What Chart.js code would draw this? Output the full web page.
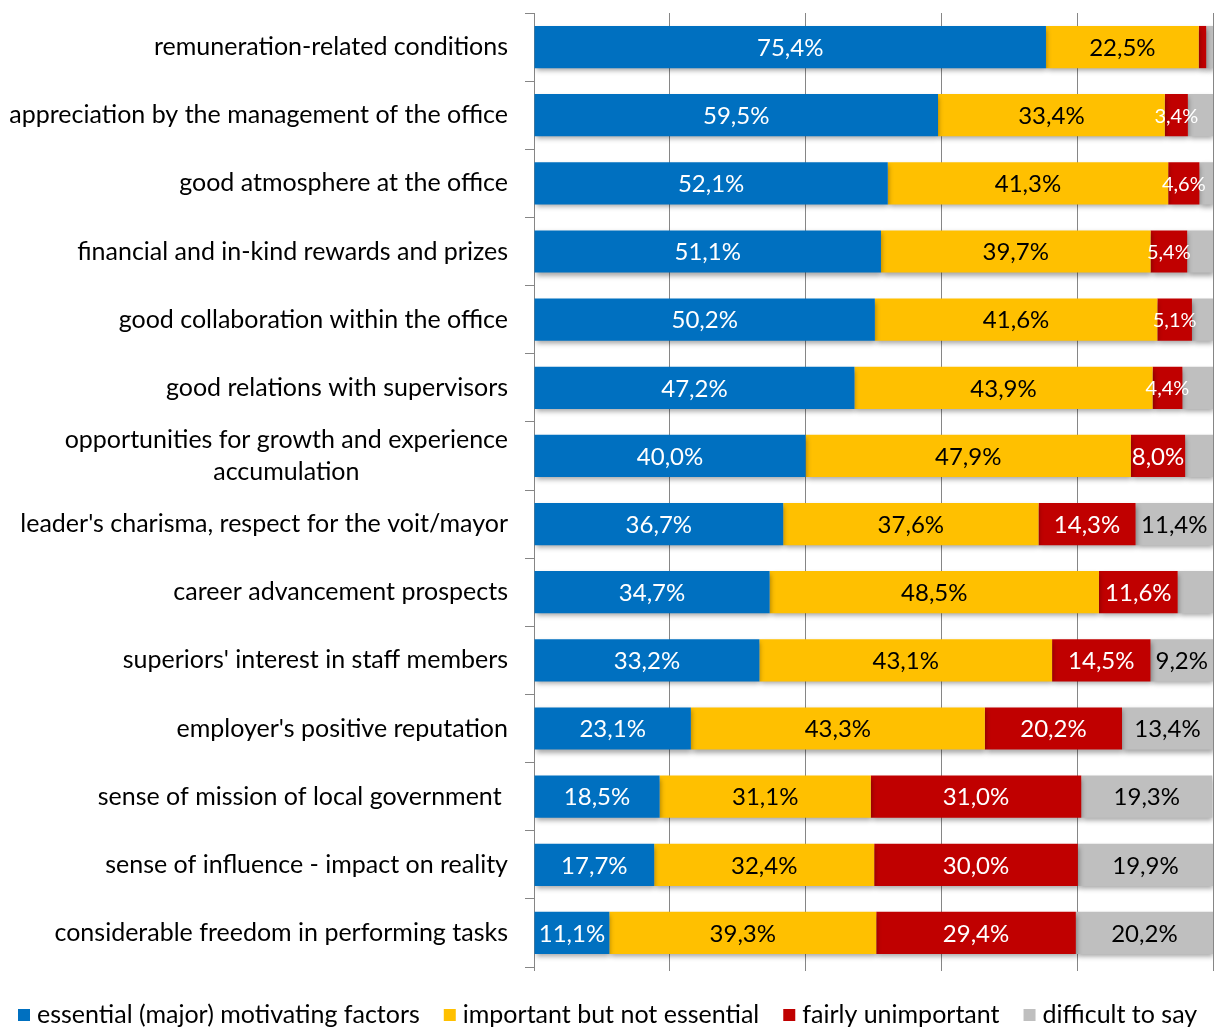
<!DOCTYPE html>
<html>
<head>
<meta charset="utf-8">
<script src="https://cdn.jsdelivr.net/npm/chart.js@4.4.1/dist/chart.umd.min.js"></script>
<style>
  html, body { margin: 0; padding: 0; background: #fff; }
  #wrap { width: 1214px; height: 1027px; position: relative; }
</style>
</head>
<body>
<div id="wrap"><canvas id="chart"></canvas></div>
<script>
// motivating factors, top to bottom
const categories = [
  'remuneration-related conditions',
  'appreciation by the management of the office',
  'good atmosphere at the office',
  'financial and in-kind rewards and prizes',
  'good collaboration within the office',
  'good relations with supervisors',
  ['opportunities for growth and experience', 'accumulation'],
  "leader's charisma, respect for the voit/mayor",
  'career advancement prospects',
  "superiors' interest in staff members",
  "employer's positive reputation",
  'sense of mission of local government ',
  'sense of influence - impact on reality',
  'considerable freedom in performing tasks'
];

const essential   = [75.4, 59.5, 52.1, 51.1, 50.2, 47.2, 40.0, 36.7, 34.7, 33.2, 23.1, 18.5, 17.7, 11.1];
const important   = [22.5, 33.4, 41.3, 39.7, 41.6, 43.9, 47.9, 37.6, 48.5, 43.1, 43.3, 31.1, 32.4, 39.3];
const unimportant = [1.1, 3.4, 4.6, 5.4, 5.1, 4.4, 8.0, 14.3, 11.6, 14.5, 20.2, 31.0, 30.0, 29.4];
const difficult   = [1.0, 3.7, 2.0, 3.8, 3.1, 4.5, 4.1, 11.4, 5.2, 9.2, 13.4, 19.3, 19.9, 20.2];

// which segments carry a value label
const showUnimportant = [false, true, true, true, true, true, true, true, true, true, true, true, true, true];
const showDifficult   = [false, false, false, false, false, false, false, true, false, true, true, true, true, true];

const seriesNames = [
  'essential (major) motivating factors',
  'important but not essential',
  'fairly unimportant',
  'difficult to say'
];
const seriesColors = ['#0070C0', '#FFC000', '#C00000', '#BFBFBF'];

const FONT = 'Lato, "Open Sans", sans-serif';
const GRID = '#868686';

function pct(v) {
  return v.toFixed(1).replace('.', ',') + '%';
}

// bar shadows, value labels, category labels and the legend row
const decorPlugin = {
  id: 'decor',
  beforeDatasetsDraw(chart) {
    const ctx = chart.ctx;
    ctx.save();
    ctx.shadowColor = 'rgba(0,0,0,0.35)';
    ctx.shadowBlur = 5;
    ctx.shadowOffsetX = 1;
    ctx.shadowOffsetY = 3;
  },
  afterDatasetsDraw(chart) {
    const ctx = chart.ctx;
    ctx.restore();

    const shown = [null, null, showUnimportant, showDifficult];
    const colors = ['#ffffff', '#000000', '#ffffff', '#000000'];
    ctx.save();
    ctx.textAlign = 'center';
    ctx.textBaseline = 'middle';
    chart.data.datasets.forEach((ds, di) => {
      const meta = chart.getDatasetMeta(di);
      meta.data.forEach((bar, i) => {
        if (shown[di] && !shown[di][i]) return;
        const text = pct(ds.data[i]);
        const w = Math.abs(bar.x - bar.base);
        ctx.font = '24px ' + FONT;
        if (ctx.measureText(text).width > w) ctx.font = '20px ' + FONT;
        ctx.fillStyle = colors[di];
        ctx.fillText(text, (bar.x + bar.base) / 2, bar.y + 1);
      });
    });

    // category names, right aligned next to the axis
    const yScale = chart.scales.y;
    ctx.font = '25px ' + FONT;
    ctx.fillStyle = '#000';
    const right = chart.chartArea.left - 26;
    categories.forEach((cat, i) => {
      const y = yScale.getPixelForValue(i);
      if (Array.isArray(cat)) {
        const cx = right - ctx.measureText(cat[0]).width / 2;
        const lh = 32;
        const top = y - (cat.length - 1) * lh / 2;
        ctx.textAlign = 'center';
        cat.forEach((line, li) => ctx.fillText(line, cx, top + li * lh));
      } else {
        ctx.textAlign = 'right';
        ctx.fillText(cat, right, y);
      }
    });

    // legend along the bottom edge
    ctx.font = '25px ' + FONT;
    ctx.textAlign = 'left';
    let x = 18;
    const ly = chart.height - 12;
    chart.data.datasets.forEach((ds, di) => {
      ctx.fillStyle = ds.backgroundColor;
      ctx.fillRect(x, ly - 6, 12, 12);
      ctx.fillStyle = '#000';
      ctx.fillText(ds.label, x + 19, ly);
      x += 19 + ctx.measureText(ds.label).width + 24;
    });
    ctx.restore();
  }
};

new Chart(document.getElementById('chart'), {
  type: 'bar',
  data: {
    labels: categories.map(c => Array.isArray(c) ? c.join(' ') : c),
    datasets: [
      { label: seriesNames[0], data: essential,   backgroundColor: seriesColors[0] },
      { label: seriesNames[1], data: important,   backgroundColor: seriesColors[1] },
      { label: seriesNames[2], data: unimportant, backgroundColor: seriesColors[2] },
      { label: seriesNames[3], data: difficult,   backgroundColor: seriesColors[3] }
    ]
  },
  options: {
    indexAxis: 'y',
    responsive: true,
    maintainAspectRatio: false,
    animation: false,
    layout: { padding: { top: 13, right: 1, left: 0, bottom: 56 } },
    datasets: {
      bar: { barPercentage: 0.62, categoryPercentage: 1, borderWidth: 0 }
    },
    scales: {
      x: {
        stacked: true,
        min: 0,
        max: 100,
        ticks: { display: false, stepSize: 20 },
        grid: { color: GRID, lineWidth: 1, drawTicks: true, tickLength: 4, tickColor: GRID },
        border: { display: false },
        afterFit(scale) { scale.height = 4; }
      },
      y: {
        stacked: true,
        ticks: { display: false },
        grid: { offset: true, drawOnChartArea: false, drawTicks: true, tickLength: 9, tickColor: GRID },
        border: { display: true, color: GRID, width: 1 },
        afterFit(scale) { scale.width = 534; }
      }
    },
    plugins: {
      legend: { display: false },
      tooltip: { enabled: false }
    }
  },
  plugins: [decorPlugin]
});
</script>
</body>
</html>
